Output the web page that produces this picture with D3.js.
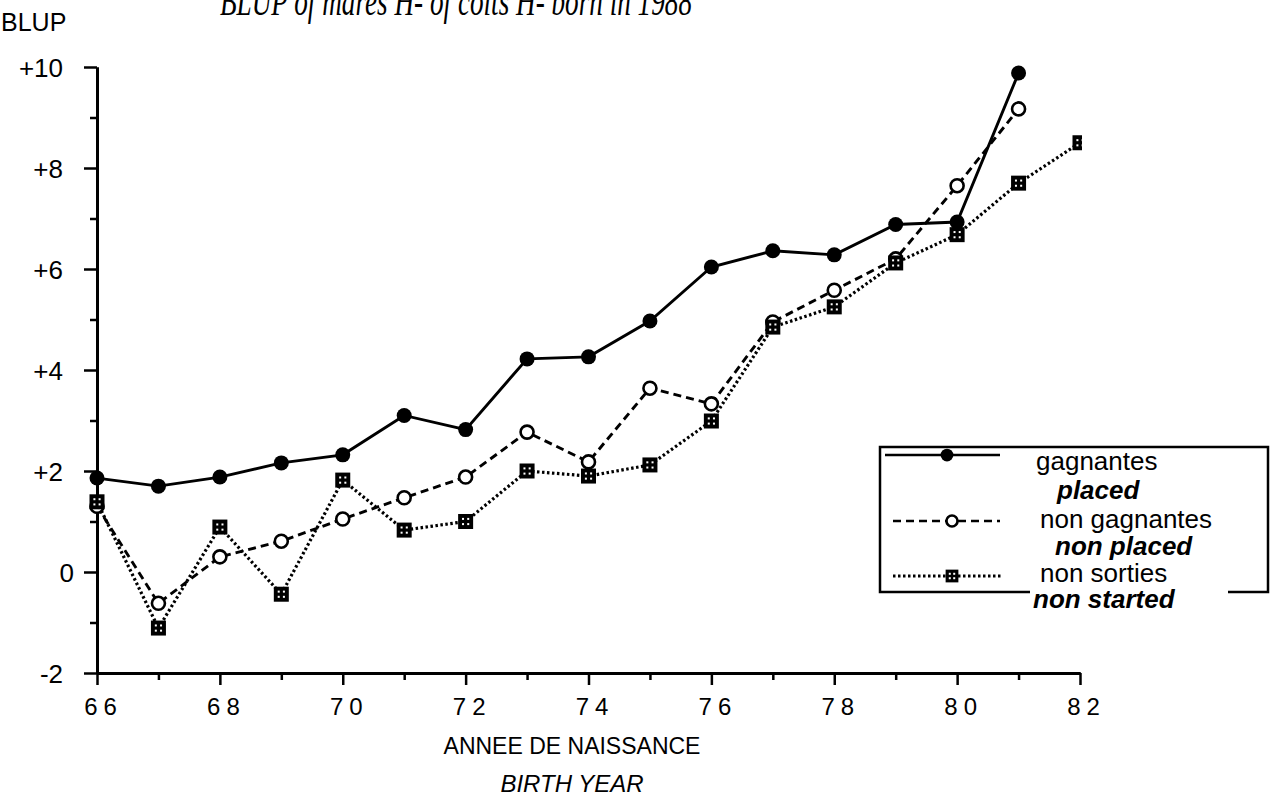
<!DOCTYPE html>
<html>
<head>
<meta charset="utf-8">
<script src="https://cdn.jsdelivr.net/npm/d3@7"></script>
<style>
  body { margin: 0; background: #fff; }
  text { font-family: "Liberation Sans", Arial, Helvetica, sans-serif; fill: #000; }
</style>
</head>
<body>
<div id="chart"></div>
<script>
// birth years (19xx) and BLUP by category
const years = [66, 67, 68, 69, 70, 71, 72, 73, 74, 75, 76, 77, 78, 79, 80, 81, 82];
const gagnantes = [1.86, 1.70, 1.88, 2.16, 2.32, 3.10, 2.82, 4.22, 4.26, 4.97, 6.04, 6.36, 6.28, 6.88, 6.93, 9.88];
const nonGagnantes = [1.30, -0.62, 0.30, 0.61, 1.05, 1.47, 1.88, 2.77, 2.18, 3.64, 3.33, 4.95, 5.58, 6.20, 7.65, 9.17];
const nonSorties = [1.39, -1.11, 0.89, -0.44, 1.82, 0.83, 1.00, 2.00, 1.90, 2.12, 2.99, 4.85, 5.25, 6.12, 6.68, 7.70, 8.50];

const legendMain = ["gagnantes", "non gagnantes", "non sorties"];
const legendSub = ["placed", "non placed", "non started"];

const yMajor = [-2, 0, 2, 4, 6, 8, 10];
const yMinor = [-1, 1, 3, 5, 7, 9];
const xMajor = [66, 68, 70, 72, 74, 76, 78, 80, 82];
const xMinor = [67, 69, 71, 73, 75, 77, 79, 81];

const W = 1275, H = 799;
let margin = { left: 97, right: 1080, top: 67, bottom: 673 };

let svg = d3.select("#chart").append("svg")
  .attr("width", W).attr("height", H)
  .style("background-color", "#FFFFFF");

let x = d3.scaleLinear().domain([66, 82]).range([margin.left, margin.right]);
let y = d3.scaleLinear().domain([-2, 10]).range([margin.bottom, margin.top]);

// title, cut off by the top edge in the scan
svg.append("text")
  .attr("x", 220).attr("y", 15)
  .attr("textLength", 472).attr("lengthAdjust", "spacingAndGlyphs")
  .style("font-family", "'Liberation Serif', 'DejaVu Serif', serif")
  .style("font-style", "italic")
  .style("font-size", "40px")
  .text("BLUP of mares H- of colts H- born in 1988");

svg.append("text")
  .attr("x", 1).attr("y", 31)
  .style("font-size", "25px")
  .text("BLUP");

// y axis
let yAxis = svg.append("g").attr("transform", "translate(" + margin.left + ",0)");
yAxis.call(d3.axisLeft(y).tickValues(yMajor).tickSize(13).tickSizeOuter(0).tickPadding(21)
  .tickFormat(function(d) { return d > 0 ? "+" + d : d; }));
yAxis.append("g").call(d3.axisLeft(y).tickValues(yMinor).tickSize(7).tickSizeOuter(0).tickFormat(""));
yAxis.selectAll(".tick text").style("font-size", "26px").attr("dy", "0.36em")
  .attr("dx", function(d) { return d === 0 ? 11 : 0; });

// x axis
let xAxis = svg.append("g").attr("transform", "translate(0," + margin.bottom + ")");
xAxis.call(d3.axisBottom(x).tickValues(xMajor).tickSize(12).tickSizeOuter(0).tickPadding(13)
  .tickFormat(function(d) { return String(d); }));
xAxis.append("g").call(d3.axisBottom(x).tickValues(xMinor).tickSize(7).tickSizeOuter(0).tickFormat(""));
xAxis.selectAll(".tick text").style("font-size", "24px").style("letter-spacing", "6px").attr("dx", "6px");

svg.selectAll(".domain").attr("stroke", "#000").attr("stroke-width", 3);
svg.selectAll(".tick line").attr("stroke", "#000").attr("stroke-width", 2.5);

svg.append("text")
  .attr("x", 572).attr("y", 754)
  .attr("text-anchor", "middle")
  .style("font-size", "23px")
  .text("ANNEE DE NAISSANCE");
svg.append("text")
  .attr("x", 572).attr("y", 792)
  .attr("text-anchor", "middle")
  .style("font-size", "24px").style("font-style", "italic")
  .text("BIRTH YEAR");

// series
let series = [
  { id: "g", values: gagnantes, dash: null, marker: "dot" },
  { id: "ng", values: nonGagnantes, dash: "8,5", marker: "ring" },
  { id: "ns", values: nonSorties, dash: "2.5,2.5", marker: "square" }
];

svg.append("clipPath").attr("id", "plotclip")
  .append("rect").attr("x", 0).attr("y", 0).attr("width", x(82) + 2).attr("height", H);

let line = d3.line()
  .x(function(d) { return x(d.year); })
  .y(function(d) { return y(d.v); });

function drawMarker(sel, type, cx, cy, s) {
  if (type === "dot") {
    sel.append("circle").attr("cx", cx).attr("cy", cy).attr("r", 7.5 * s).attr("fill", "#000");
  } else if (type === "ring") {
    sel.append("circle").attr("cx", cx).attr("cy", cy).attr("r", 6.5 * s)
      .attr("fill", "#fff").attr("stroke", "#000").attr("stroke-width", 2.6);
  } else {
    let a = 7.5 * s;
    sel.append("rect").attr("x", cx - a).attr("y", cy - a).attr("width", 2 * a).attr("height", 2 * a).attr("fill", "#000");
    [[-1, -1], [1, -1], [-1, 1], [1, 1]].forEach(function(o) {
      sel.append("rect")
        .attr("x", cx + o[0] * 2.6 * s - 1).attr("y", cy + o[1] * 2.6 * s - 1)
        .attr("width", 2).attr("height", 2).attr("fill", "#fff");
    });
  }
}

series.forEach(function(s) {
  let pts = s.values.map(function(v, i) { return { year: years[i], v: v }; });
  let g = svg.append("g").attr("class", "series " + s.id);
  g.append("path")
    .attr("d", line(pts))
    .attr("fill", "none")
    .attr("stroke", "#000")
    .attr("stroke-width", s.marker === "square" ? 3.2 : 2.9)
    .attr("stroke-dasharray", s.dash);
  let mg = g.append("g").attr("clip-path", "url(#plotclip)");
  pts.forEach(function(p) { drawMarker(mg, s.marker, x(p.year), y(p.v), 1); });
});

// legend box, its bottom edge broken by "non started"
let lg = svg.append("g").attr("class", "legend");
let bx0 = 880, bx1 = 1268, by0 = 447, by1 = 592;
lg.append("path")
  .attr("d", "M1030," + by1 + "H" + bx0 + "V" + by0 + "H" + bx1 + "V" + by1 + "H1228")
  .attr("fill", "none").attr("stroke", "#000").attr("stroke-width", 2.5);

let rowY = [455, 521, 576];
let lineX = [[885, 1000], [893, 1000], [893, 1002]];
let markX = [947, 952, 952];
let mainX = [1036, 1040, 1040];
let mainY = [470, 528, 582];
let subX = [1057, 1055, 1033];
let subY = [499, 555, 608];
series.forEach(function(s, i) {
  lg.append("line")
    .attr("x1", lineX[i][0]).attr("x2", lineX[i][1])
    .attr("y1", rowY[i]).attr("y2", rowY[i])
    .attr("stroke", "#000").attr("stroke-width", s.marker === "square" ? 3 : 2.6)
    .attr("stroke-dasharray", s.dash);
  drawMarker(lg, s.marker, markX[i], rowY[i], 0.85);
  lg.append("text").attr("x", mainX[i]).attr("y", mainY[i])
    .style("font-size", "26px").text(legendMain[i]);
  lg.append("text").attr("x", subX[i]).attr("y", subY[i])
    .style("font-size", "26px").style("font-style", "italic").style("font-weight", "bold")
    .text(legendSub[i]);
});
</script>
</body>
</html>
